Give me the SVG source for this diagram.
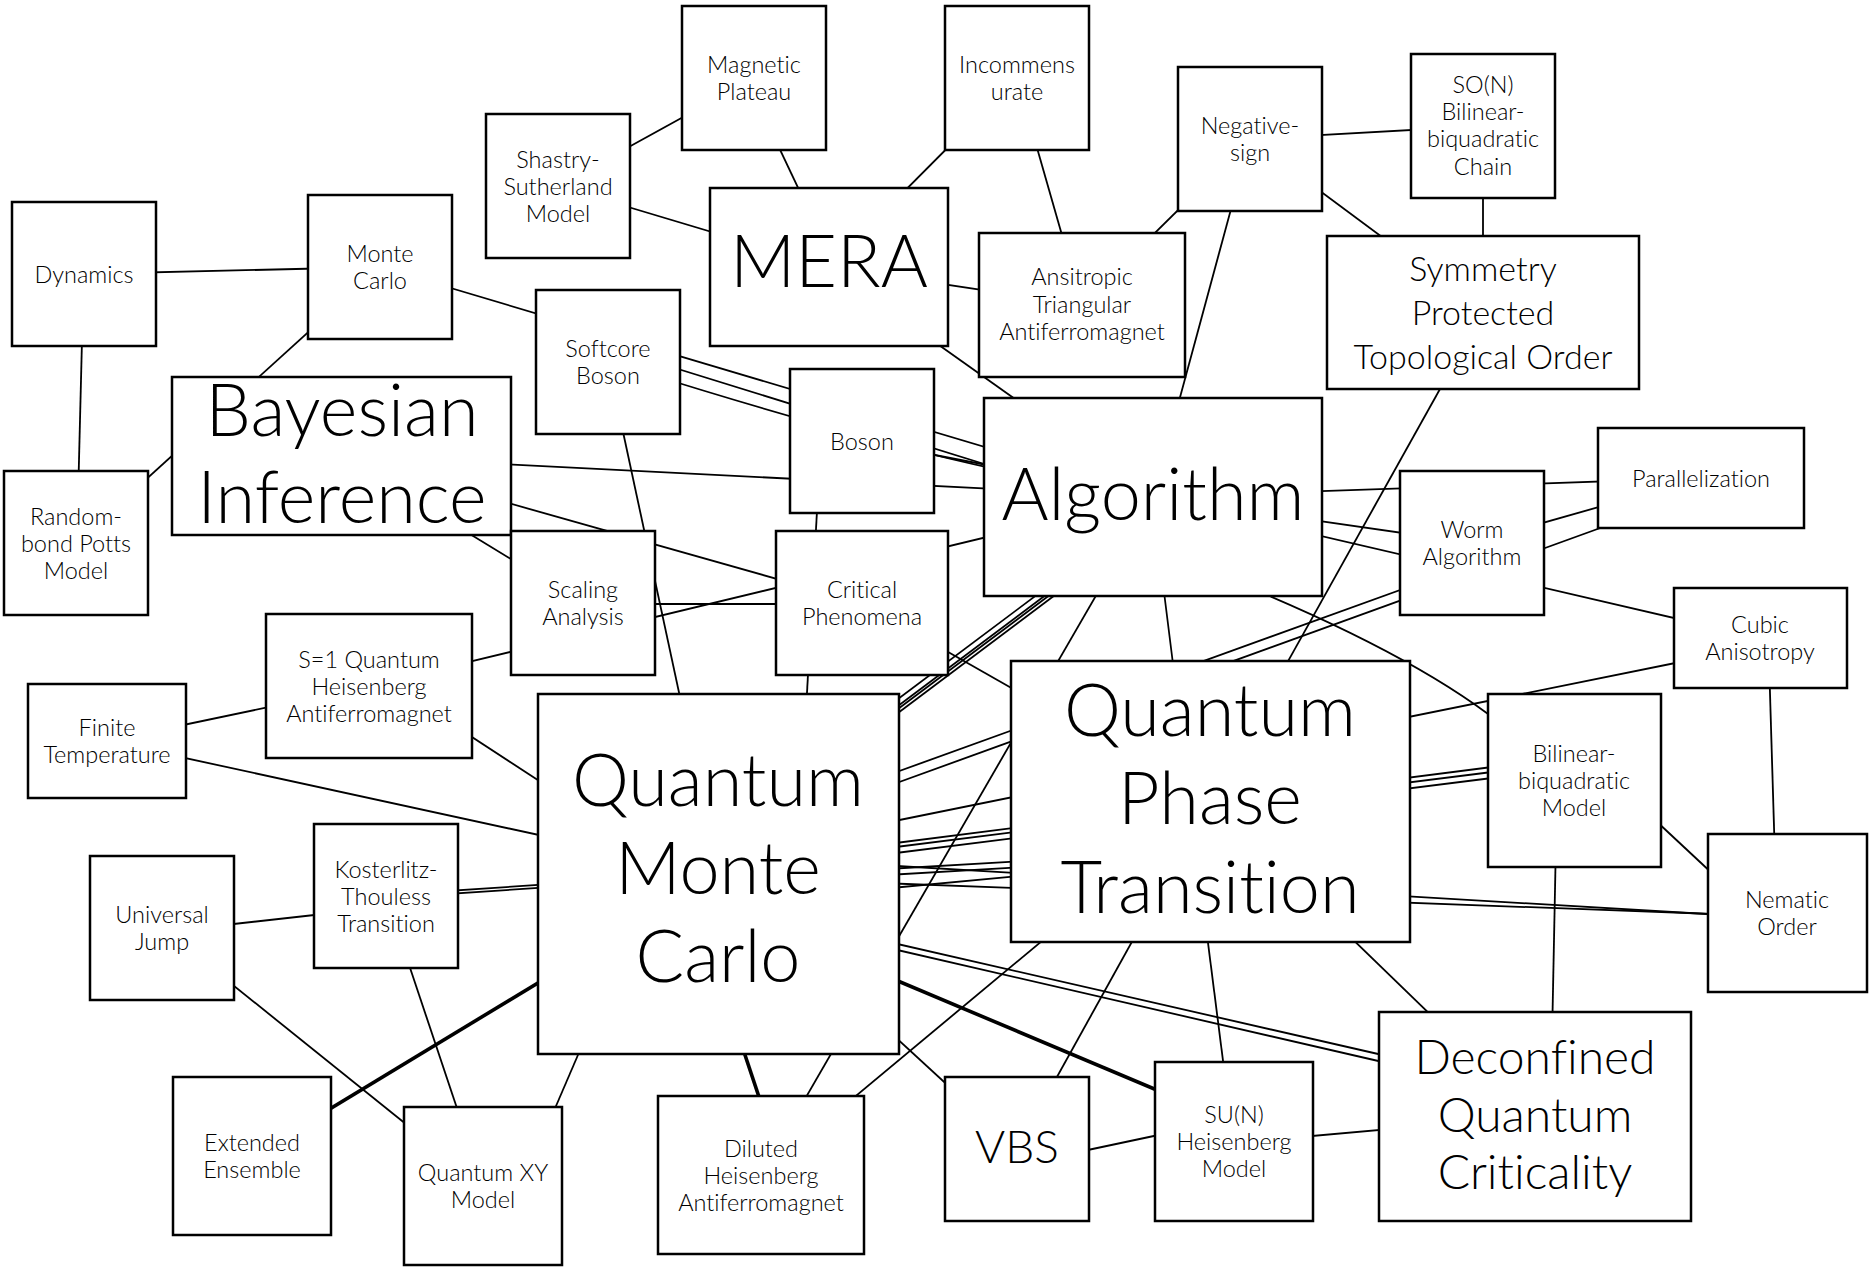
<svg xmlns="http://www.w3.org/2000/svg" width="1872" height="1270" viewBox="0 0 1872 1270">
<style>
.n rect{fill:#fff;stroke:#000;stroke-width:2.5}
#edges path{stroke:#000;stroke-width:1.8;fill:none}
#edges path.k{stroke-width:3.6}
text{font-family:Lato,"Open Sans","Liberation Sans",sans-serif;font-weight:300;text-anchor:middle;fill:#000;font-variant-ligatures:none}
.s{font-size:23.5px}
.b{font-size:72px}
.m{font-size:48px}
.p{font-size:34px}
.v{font-size:46px}
</style>
<rect width="1872" height="1270" fill="#fff"/>
<g id="edges">
<path d="M84,274 L380,267"/>
<path d="M83,300 L77,540"/>
<path d="M380,267 L76,543"/>
<path d="M380,267 L1153,497"/>
<path d="M558,186 L754,78"/>
<path d="M558,186 L829,267"/>
<path d="M747,80 L837,270"/>
<path d="M1017,78 L829,267"/>
<path d="M1017,78 L1082,305"/>
<path d="M829,267 L1082,305"/>
<path d="M829,267 L1153,497"/>
<path d="M1250,139 L1082,305"/>
<path d="M1250,139 L1483,126"/>
<path d="M1250,139 L1483,312"/>
<path d="M1250,139 L1153,497"/>
<path d="M1483,126 L1483,312"/>
<path d="M1483,312 L1210,801"/>
<path d="M620,351 L1010,472"/>
<path d="M640,371 Q860,440 1000,470"/>
<path d="M862,441 L1153,497"/>
<path d="M342,456 L1153,497"/>
<path d="M342,456 L862,603"/>
<path d="M342,456 L583,603"/>
<path d="M608,362 L718,874"/>
<path d="M822,420 L800,820"/>
<path d="M369,686 L1153,497"/>
<path d="M583,604 L862,604"/>
<path d="M107,741 L369,686"/>
<path d="M400,690 L700,886"/>
<path d="M107,741 L718,874"/>
<path d="M386,898 L718,876"/>
<path d="M386,895 L718,873"/>
<path d="M162,932 L386,907"/>
<path d="M386,896 L483,1186"/>
<path d="M162,928 L483,1186"/>
<path class="k" d="M252,1156 L718,874"/>
<path d="M550,1120 L590,1027"/>
<path class="k" d="M738,1034 L765,1115"/>
<path d="M761,1175 L1153,497"/>
<path d="M718,874 L1017,1149"/>
<path d="M1210,801 L1017,1149"/>
<path d="M1210,801 L761,1175"/>
<path d="M1200,880 L1228,1100"/>
<path d="M1210,801 L1535,1116"/>
<path d="M1017,1165 L1234,1119"/>
<path d="M1234,1143 L1535,1116"/>
<path d="M1556,840 L1552,1040"/>
<path d="M1640,806 L1730,890"/>
<path d="M1769,660 L1775,860"/>
<path d="M860,828 L1700,658"/>
<path d="M1153,497 L1760,638"/>
<path d="M1153,497 L1472,543"/>
<path d="M1153,497 L1701,478"/>
<path d="M1472,543 L1701,478"/>
<path d="M1260,592 Q1440,668 1520,740"/>
<path d="M880,778 L1450,572"/>
<path d="M880,789 L1650,510"/>
<path d="M880,845 L1500,766"/>
<path d="M880,849 L1500,771"/>
<path d="M880,855 L1500,777"/>
<path d="M880,865 L1740,916"/>
<path d="M880,883 L1740,915"/>
<path d="M880,940 L1400,1059"/>
<path d="M880,946 L1400,1066"/>
<path class="k" d="M860,965 L1190,1104"/>
<path d="M862,603 L1210,801"/>
<path d="M1160,560 L1180,720"/>
<path d="M870,720 L1070,570"/>
<path d="M870,727 L1075,573"/>
<path d="M870,730 L1079,573"/>
<path d="M870,734 L1083,574"/>
<path d="M870,870 L1040,860"/>
<path d="M870,876 L1040,866"/>
<path d="M870,890 L1040,874"/>
</g>
<g id="n-magnetic-plateau" class="n"><rect x="682" y="6" width="144" height="144"/><text class="s" x="754" y="73">Magnetic</text><text class="s" x="754" y="100">Plateau</text></g>
<g id="n-incommensurate" class="n"><rect x="945" y="6" width="144" height="144"/><text class="s" x="1017" y="73">Incommens</text><text class="s" x="1017" y="100">urate</text></g>
<g id="n-shastry" class="n"><rect x="486" y="114" width="144" height="144"/><text class="s" x="558" y="167.5">Shastry-</text><text class="s" x="558" y="194.5">Sutherland</text><text class="s" x="558" y="221.5">Model</text></g>
<g id="n-mera" class="n"><rect x="710" y="188" width="238" height="158"/><text class="b" x="829" y="287">MERA</text></g>
<g id="n-negative-sign" class="n"><rect x="1178" y="67" width="144" height="144"/><text class="s" x="1250" y="134">Negative-</text><text class="s" x="1250" y="161">sign</text></g>
<g id="n-son" class="n"><rect x="1411" y="54" width="144" height="144"/><text class="s" x="1483" y="93">SO(N)</text><text class="s" x="1483" y="120">Bilinear-</text><text class="s" x="1483" y="147">biquadratic</text><text class="s" x="1483" y="175">Chain</text></g>
<g id="n-ansitropic" class="n"><rect x="979" y="233" width="206" height="144"/><text class="s" x="1082" y="285">Ansitropic</text><text class="s" x="1082" y="313">Triangular</text><text class="s" x="1082" y="340">Antiferromagnet</text></g>
<g id="n-spt" class="n"><rect x="1327" y="236" width="312" height="153"/><text class="p" x="1483" y="281">Symmetry</text><text class="p" x="1483" y="325">Protected</text><text class="p" x="1483" y="369">Topological Order</text></g>
<g id="n-dynamics" class="n"><rect x="12" y="202" width="144" height="144"/><text class="s" x="84" y="282.5">Dynamics</text></g>
<g id="n-monte-carlo" class="n"><rect x="308" y="195" width="144" height="144"/><text class="s" x="380" y="262">Monte</text><text class="s" x="380" y="289">Carlo</text></g>
<g id="n-softcore" class="n"><rect x="536" y="290" width="144" height="144"/><text class="s" x="608" y="357">Softcore</text><text class="s" x="608" y="384">Boson</text></g>
<g id="n-bayesian" class="n"><rect x="172" y="377" width="339" height="158"/><text class="b" x="342" y="436">Bayesian</text><text class="b" x="342" y="523">Inference</text></g>
<g id="n-boson" class="n"><rect x="790" y="369" width="144" height="144"/><text class="s" x="862" y="449.5">Boson</text></g>
<g id="n-algorithm" class="n"><rect x="984" y="398" width="338" height="198"/><text class="b" x="1153" y="520">Algorithm</text></g>
<g id="n-parallelization" class="n"><rect x="1598" y="428" width="206" height="100"/><text class="s" x="1701" y="486.5">Parallelization</text></g>
<g id="n-worm" class="n"><rect x="1400" y="471" width="144" height="144"/><text class="s" x="1472" y="538">Worm</text><text class="s" x="1472" y="565">Algorithm</text></g>
<g id="n-cubic" class="n"><rect x="1674" y="588" width="173" height="100"/><text class="s" x="1760" y="633">Cubic</text><text class="s" x="1760" y="660">Anisotropy</text></g>
<g id="n-random-bond" class="n"><rect x="4" y="471" width="144" height="144"/><text class="s" x="76" y="524.5">Random-</text><text class="s" x="76" y="551.5">bond Potts</text><text class="s" x="76" y="578.5">Model</text></g>
<g id="n-scaling" class="n"><rect x="511" y="531" width="144" height="144"/><text class="s" x="583" y="598">Scaling</text><text class="s" x="583" y="625">Analysis</text></g>
<g id="n-critical" class="n"><rect x="776" y="531" width="172" height="144"/><text class="s" x="862" y="598">Critical</text><text class="s" x="862" y="625">Phenomena</text></g>
<g id="n-s1" class="n"><rect x="266" y="614" width="206" height="144"/><text class="s" x="369" y="667.5">S=1 Quantum</text><text class="s" x="369" y="694.5">Heisenberg</text><text class="s" x="369" y="721.5">Antiferromagnet</text></g>
<g id="n-finite-temperature" class="n"><rect x="28" y="684" width="158" height="114"/><text class="s" x="107" y="736">Finite</text><text class="s" x="107" y="763">Temperature</text></g>
<g id="n-qmc" class="n"><rect x="538" y="694" width="361" height="360"/><text class="b" x="718" y="806">Quantum</text><text class="b" x="718" y="894">Monte</text><text class="b" x="718" y="982">Carlo</text></g>
<g id="n-qpt" class="n"><rect x="1011" y="661" width="399" height="281"/><text class="b" x="1210" y="736">Quantum</text><text class="b" x="1210" y="824">Phase</text><text class="b" x="1210" y="913">Transition</text></g>
<g id="n-bilinear" class="n"><rect x="1488" y="694" width="173" height="173"/><text class="s" x="1574" y="761.5">Bilinear-</text><text class="s" x="1574" y="788.5">biquadratic</text><text class="s" x="1574" y="815.5">Model</text></g>
<g id="n-nematic" class="n"><rect x="1708" y="834" width="159" height="158"/><text class="s" x="1787" y="908">Nematic</text><text class="s" x="1787" y="935">Order</text></g>
<g id="n-kt" class="n"><rect x="314" y="824" width="144" height="144"/><text class="s" x="386" y="877.5">Kosterlitz-</text><text class="s" x="386" y="904.5">Thouless</text><text class="s" x="386" y="931.5">Transition</text></g>
<g id="n-universal-jump" class="n"><rect x="90" y="856" width="144" height="144"/><text class="s" x="162" y="923">Universal</text><text class="s" x="162" y="950">Jump</text></g>
<g id="n-extended" class="n"><rect x="173" y="1077" width="158" height="158"/><text class="s" x="252" y="1151">Extended</text><text class="s" x="252" y="1178">Ensemble</text></g>
<g id="n-qxy" class="n"><rect x="404" y="1107" width="158" height="158"/><text class="s" x="483" y="1181">Quantum XY</text><text class="s" x="483" y="1208">Model</text></g>
<g id="n-diluted" class="n"><rect x="658" y="1096" width="206" height="158"/><text class="s" x="761" y="1156.5">Diluted</text><text class="s" x="761" y="1183.5">Heisenberg</text><text class="s" x="761" y="1210.5">Antiferromagnet</text></g>
<g id="n-vbs" class="n"><rect x="945" y="1077" width="144" height="144"/><text class="v" x="1017" y="1163">VBS</text></g>
<g id="n-sun" class="n"><rect x="1155" y="1062" width="158" height="159"/><text class="s" x="1234" y="1122.5">SU(N)</text><text class="s" x="1234" y="1149.5">Heisenberg</text><text class="s" x="1234" y="1176.5">Model</text></g>
<g id="n-dqc" class="n"><rect x="1379" y="1012" width="312" height="209"/><text class="m" x="1535" y="1074">Deconfined</text><text class="m" x="1535" y="1132">Quantum</text><text class="m" x="1535" y="1189">Criticality</text></g>
</svg>
